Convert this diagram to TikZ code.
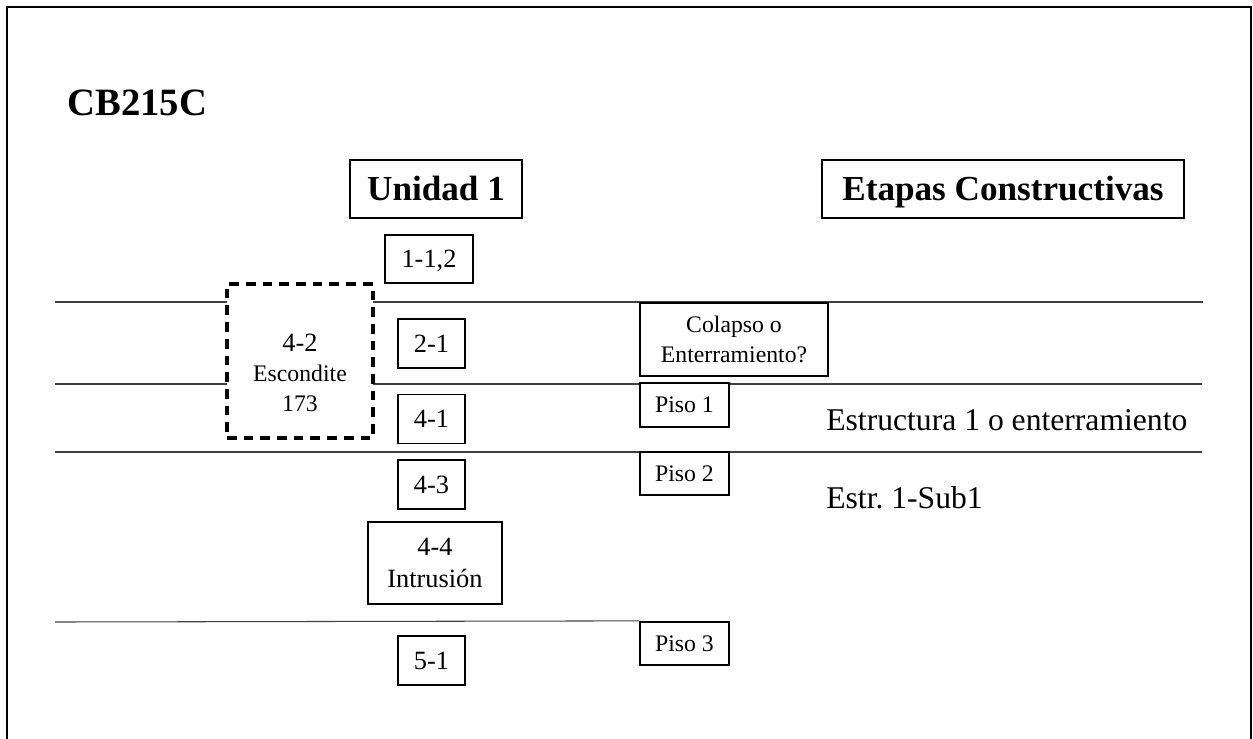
\documentclass[tikz,border=0pt]{standalone}
\usepackage{fontspec}
\setmainfont{Liberation Serif}
\usetikzlibrary{positioning, backgrounds}
\tikzset{
  cb/titulo/.style={rectangle, draw, line width=1.1pt, fill=white,
    font=\fontsize{20}{24}\selectfont\bfseries, inner sep=0pt,
    text height=13.5pt, text depth=0pt, minimum height=11.6mm},
  cb/caja/.style={rectangle, draw, line width=1pt, fill=white,
    font=\fontsize{15}{18}\selectfont, inner sep=0pt,
    text height=10pt, text depth=0pt,
    minimum width=13.4mm, minimum height=9.8mm},
  cb/piso/.style={rectangle, draw, line width=1pt, fill=white,
    font=\fontsize{13.5}{17}\selectfont, inner sep=0pt,
    text height=9pt, text depth=0pt,
    minimum width=17.8mm, minimum height=8.7mm},
  cb/doble/.style={rectangle, draw, line width=1pt, fill=white,
    align=center, inner sep=0pt},
  cb/trazos/.style={rectangle, draw, line width=2pt,
    dash pattern=on 5.5pt off 4pt, fill=white,
    minimum width=29.2mm, minimum height=30.8mm},
  cb/texto/.style={font=\fontsize{18}{22}\selectfont, inner sep=0pt,
    anchor=base west},
  cb/nivel/.style={line width=0.6pt, draw=black!75}
}

\begin{document}
\begin{tikzpicture}[x=0.2mm, y=-0.2mm]
  \useasboundingbox (0,0) rectangle (1253,738);
  \draw[line width=1.4pt] (7,760) |- (1251,7) -- (1251,760);

  \node[cb/texto, font=\fontsize{22}{26}\selectfont\bfseries] (sitio)
        at (67,115) {CB215C};
  \node[cb/titulo, minimum width=34.4mm] (unidad) at (436,189) {Unidad 1};
  \node[cb/titulo, minimum width=72.4mm] (etapas) at (1003,189)
        {Etapas Constructivas};

  % unidades
  \node[cb/caja, minimum width=17.6mm, minimum height=9.6mm] (u112)
        at (429,259) {1-1,2};
  \node[cb/caja] (u21) at (431.5,343.5) {2-1};
  \node[cb/caja] (u41) at (431.5,419) {4-1};
  \node[cb/caja] (u43) at (431.5,484.5) {4-3};
  \node[cb/doble, font=\fontsize{15}{18.5}\selectfont,
        minimum width=26.8mm, minimum height=16.4mm] (u44) at (435,563)
        {4-4\\Intrusi\'on};
  \node[cb/caja] (u51) at (431.5,660.5) {5-1};
  \node[cb/trazos] (u42) at (300,361) {};
  \node[align=center, inner sep=0pt, font=\fontsize{13.5}{17}\selectfont]
        (u42txt) at (300,373) {{\fontsize{15}{18}\selectfont 4-2}\\Escondite\\173};

  % etapas
  \node[cb/doble, font=\fontsize{13.5}{17}\selectfont,
        minimum width=37.6mm, minimum height=14.6mm] (colapso) at (734,339.5)
        {Colapso o\\Enterramiento?};
  \node[cb/piso] (piso1) at (684.5,405) {Piso 1};
  \node[cb/piso] (piso2) at (684.5,473.5) {Piso 2};
  \node[cb/piso] (piso3) at (684.5,643.5) {Piso 3};
  \node[cb/texto] (estr1) at (826,430) {Estructura 1 o enterramiento};
  \node[cb/texto] (estrsub) at (826,508) {Estr.\ 1-Sub1};

  \begin{scope}[on background layer]
    \draw[cb/nivel] (55,302) -- (1203,302);
    \draw[cb/nivel] (55,384) -- (1202,384);
    \draw[cb/nivel] (55,452) -- (1202,452);
    \draw[cb/nivel] (55,622) -- (piso3.north west);
  \end{scope}
\end{tikzpicture}
\end{document}
